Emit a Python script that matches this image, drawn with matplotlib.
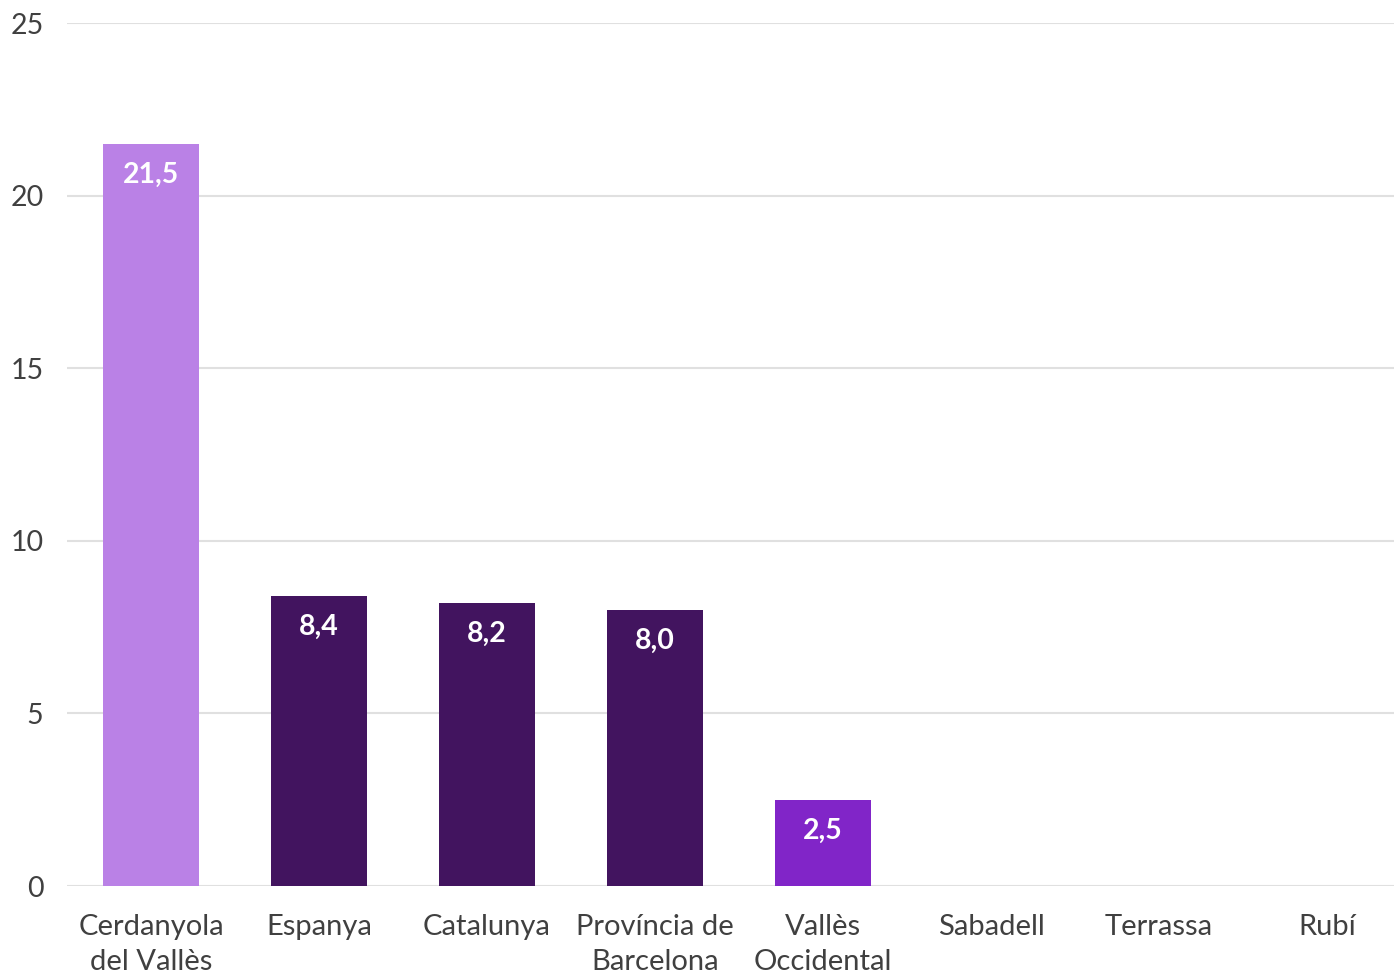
import matplotlib.pyplot as plt
import numpy as np

categories = ["Cerdanyola\ndel Vallès", "Espanya", "Catalunya", "Província de\nBarcelona",
              "Vallès\nOccidental", "Sabadell", "Terrassa", "Rubí"]
values = [21.5, 8.4, 8.2, 8.0, 2.5, 0, 0, 0]
labels = ["21,5", "8,4", "8,2", "8,0", "2,5", "", "", ""]
colors = ["#BA81E6", "#42145F", "#42145F", "#42145F", "#8125C8", "#42145F", "#42145F", "#42145F"]

plt.rcParams['font.family'] = ['Lato', 'DejaVu Sans']

fig = plt.figure(figsize=(13.94, 9.71), dpi=100)
ax = fig.add_axes([0.0481, 0.0875, 0.9641, 0.8888])

x = np.arange(len(categories))
ax.bar(x, values, width=0.571, color=colors, zorder=3)
for xi, v, lab in zip(x, values, labels):
    if lab:
        ax.annotate(lab, (xi, v), xytext=(0, -22.5), textcoords="offset points",
                    ha="center", va="center", color="white", fontsize=20.5, fontweight="bold")

ax.set_xlim(-0.5, len(categories) - 0.5)
ax.set_ylim(0, 25)
ax.set_yticks([0, 5, 10, 15, 20, 25])
ax.set_xticks(x)
ax.set_xticklabels(categories, fontsize=21, color="#404040", linespacing=1.45)
ax.tick_params(axis="y", labelsize=20.5, colors="#404040", length=0, pad=17)
ax.tick_params(axis="x", length=0, pad=20)
ax.grid(axis="y", color="#e0e0e0", linewidth=1.5, zorder=0)
for s in ax.spines.values():
    s.set_visible(False)

fig.savefig("out.png", dpi=100)
